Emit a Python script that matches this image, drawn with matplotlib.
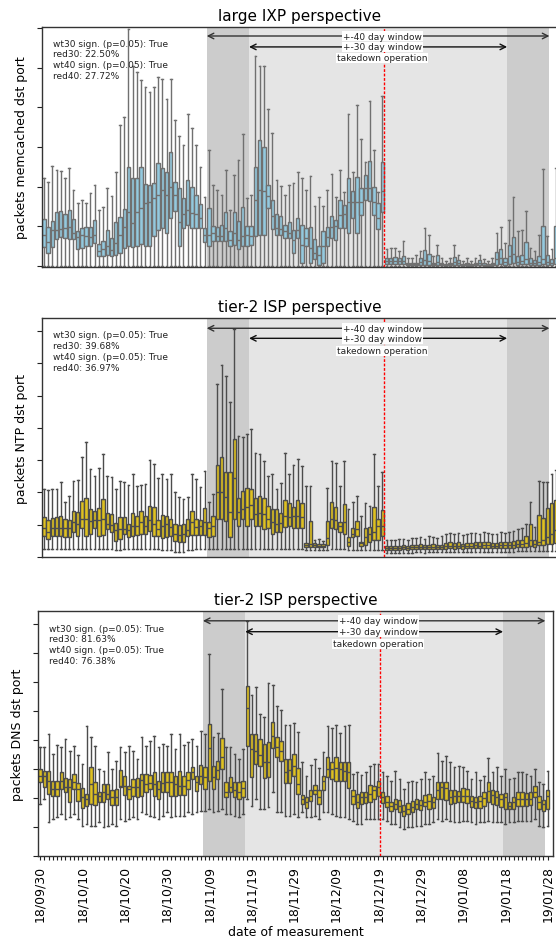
import matplotlib
matplotlib.use('Agg')
import matplotlib.pyplot as plt
from matplotlib.ticker import FixedLocator, NullFormatter

# ---------------- data (arbitrary packet units) ----------------
tick_labels = ['18/09/30', '18/10/10', '18/10/20', '18/10/30', '18/11/09', '18/11/19',
               '18/11/29', '18/12/09', '18/12/19', '18/12/29', '19/01/08', '19/01/18',
               '19/01/28']

# memcached (large IXP) -- lower whisker at zero
mem_q1 = [56,39,56,82,88,84,81,81,51,54, 59,59,69,29,29,34,29,34,39,54,
          59,57,59,67,59,59,89,109,114,99, 144,166,59,114,124,114,114,114,71,59,
          76,76,76,74,59,64,51,59,59,62, 89,92,94,175,110,94,92,84,84,39,
          84,9,59,9,20,4,9,59,84,79, 114,114,99,144,99,154,199,197,154,111,
          164, 5,5,5,5,5,2,2,2,4,4, 4,2,3,2,1,2,3,3,1,2,
          1,2,3,2,1,2,4,5,4,5, 10,4,5,6,4,3,4,6,4,3, 6]
mem_med = [92,72,109,109,111,114,116,99,87,92, 91,88,92,44,52,59,49,69,92,116,
           164,129,164,174,189,192,204,214,229,214, 237,214,134,156,169,159,156,144,94,94,
           99,89,89,114,77,99,79,91,92,90, 199,229,226,210,150,114,111,104,99,79,
           107,64,84,54,40,34,60,87,119,121, 154,156,194,194,194,194,236,236,194,144,
           225, 15,15,15,15,15,5,5,5,12,19, 15,5,12,5,3,5,12,8,3,5,
           3,5,10,4,3,5,20,25,12,30, 35,12,15,22,10,8,12,22,12,8,25]
mem_q3 = [141,119,136,164,167,156,168,142,104,114, 118,118,139,67,76,107,84,132,149,171,
          299,264,266,299,246,244,249,309,294,284, 344,254,234,204,259,239,214,186,114,176,
          122,116,124,162,104,164,136,177,121,121, 299,379,359,245,200,156,152,124,132,109,
          146,124,114,119,80,59,104,119,152,139, 199,184,264,226,269,234,274,317,237,189,
          314, 25,25,27,25,31,10,10,10,24,47, 36,10,32,10,6,10,26,19,6,10,
          6,10,19,8,6,10,41,52,24,62, 88,29,32,72,24,19,29,122,32,20,122]
mem_hi = [264,254,301,289,286,264,294,229,189,199, 191,219,244,169,179,234,211,284,424,449,
          714,604,584,559,539,524,539,569,564,504, 564,439,392,364,459,416,364,299,209,349,
          244,229,214,289,169,274,319,399,204,214, 634,604,604,474,400,259,241,214,244,249,
          284,264,229,272,180,209,181,229,276,209, 289,224,459,284,486,384,314,496,349,224,
          512, 50,55,55,45,74,25,25,34,44,114, 92,30,64,25,15,25,62,34,15,24,
          15,25,34,20,15,25,99,116,69,139, 209,104,109,167,54,44,94,292,89,50,294]
mem_lo = [0] * 122

# NTP (tier-2 ISP)
ntp_q1 = [64,54,62,62,62,59,59,74,64,86, 64,69,86,64,66,84,76,49,54,69,
          59,62,66,69,69,79,64,64,56,59, 62,49,44,46,64,66,66,66,66,59,
          64,114,114,109,59,114,94,114,92,114, 94,92,84,86,69,74,74,89,92,86,
          86,86,29,29,29,29,29,36,86,84, 76,69,34,59,62,34,36,46,52,52,
          62, 22,22,22,22,23,22,23,23,24,23, 24,24,23,24,25,26,25,26,25,26,
          26,27,26,28,27,26,26,28,27,28, 28,29,29,30,32,30,36,36,38,40,42]
ntp_med = [87,74,87,87,87,87,86,104,99,114, 114,109,111,111,114,99,96,81,84,84,
           82,94,92,106,92,112,99,84,92,99, 89,69,66,69,82,104,89,92,104,86,
           94,196,194,179,134,237,134,144,149,156, 129,131,129,114,104,99,101,124,119,122,
           122,119,36,39,36,34,34,57,114,112, 94,104,44,69,84,41,59,69,76,94,
           94, 28,28,28,28,29,28,29,30,30,29, 30,31,29,30,33,34,32,33,32,33,
           34,35,34,36,35,34,33,36,35,36, 37,38,38,42,50,40,44,50,60,70,80]
ntp_q3 = [119,112,116,119,122,114,111,139,136,168, 176,144,139,147,174,132,129,102,121,119,
          99,132,124,137,124,152,149,112,127,124, 114,99,96,99,114,139,114,111,146,104,
          122,277,299,254,254,354,176,199,207,204, 177,184,176,152,144,144,132,171,161,151,
          171,161,42,107,42,39,39,107,166,149, 104,159,59,86,109,46,86,89,149,114,
          141, 34,34,33,34,35,34,35,36,38,35, 37,38,36,37,42,44,42,44,40,42,
          43,44,44,46,45,42,42,46,44,46, 47,50,52,64,99,52,126,116,147,162,170]
ntp_hi = [204,201,204,204,224,164,184,229,232,299, 344,264,244,267,309,244,239,204,229,224,
          216,249,214,217,219,291,279,237,249,234, 249,194,179,174,179,249,234,209,259,164,
          189,519,576,542,464,684,364,359,369,384, 312,309,289,244,249,204,221,311,249,276,
          294,274,214,214,52,54,49,207,287,282, 214,289,144,164,184,124,162,154,309,214,
          256, 50,52,50,54,55,50,56,58,60,55, 62,60,58,62,70,72,68,72,66,70,
          72,72,70,74,72,68,70,74,72,76, 78,84,88,100,164,90,229,226,224,249,260]
ntp_lo = [24,24,24,24,24,24,24,24,24,24, 24,24,24,24,24,24,24,20,20,24,
          24,24,24,24,24,24,24,24,20,20, 20,14,14,14,20,20,24,24,24,24,
          24,24,24,24,24,24,24,24,24,24, 24,24,24,24,24,24,24,24,24,24,
          24,24,20,20,20,20,20,20,24,24, 24,24,20,20,20,20,20,20,20,20,
          20, 12,12,12,12,12,12,13,14,14,13, 14,14,14,14,15,15,15,15,15,15,
          15,16,15,16,16,15,15,16,16,16, 16,17,17,17,18,17,18,18,18,18,18]

# DNS (tier-2 ISP)
dns_q1 = [221,206,186,181,179,201,191,163,201,166, 143,151,156,153,163,161,171,153,153,206,
          183,171,181,176,181,191,201,181,171,191, 191,181,181,183,183,201,231,196,216,201,
          226,201,231,261,176,191,176,171,176,331, 236,276,271,233,236,323,296,286,219,219,
          241,186,156,143,166,186,156,199,236,231, 226,226,226,203,156,143,156,159,161,171,
          181, 159,146,136,141,133,119,126,131,141,139, 151,141,143,171,171,169,156,159,161,163,
          159,146,143,143,151,161,156,153,146,141, 141,141,151,151,149,153,176,141,136,141]
dns_med = [241,241,224,201,201,226,206,206,221,201, 176,171,216,186,181,191,186,176,176,211,
           211,201,206,206,229,216,219,216,201,219, 221,221,216,211,211,228,251,221,241,236,
           323,236,259,298,193,206,199,191,203,443, 321,316,303,281,281,361,326,316,253,259,
           271,216,171,161,181,199,176,226,261,261, 263,261,256,251,181,163,176,176,186,199,
           206, 176,163,151,156,151,136,141,146,156,153, 163,166,161,199,206,203,176,181,179,181,
           181,166,163,166,174,196,183,176,171,176, 151,161,171,171,171,171,191,161,156,181]
dns_q3 = [261,256,256,226,226,253,233,231,246,219, 203,186,266,223,191,216,216,199,201,259,
          241,211,231,233,246,246,243,251,226,251, 253,251,241,256,241,251,266,241,273,266,
          396,271,286,353,221,236,221,221,226,509, 366,366,351,336,341,403,356,344,291,291,
          306,263,183,176,198,214,199,241,296,283, 296,283,283,283,199,186,191,191,213,211,
          226, 191,181,163,171,169,153,159,166,171,169, 183,186,176,223,223,221,199,199,196,203,
          201,181,176,181,191,223,199,196,186,189, 163,176,191,191,189,191,209,179,169,199]
dns_hi = [326,326,366,306,334,326,351,316,331,303, 276,391,356,331,261,256,311,261,286,326,
          311,331,316,291,356,331,346,361,326,336, 331,366,321,366,333,341,351,331,376,366,
          605,356,369,501,326,326,306,291,321,706, 483,508,426,416,518,513,451,439,393,393,
          399,373,281,241,273,291,263,313,391,384, 393,369,389,394,246,251,243,253,271,276,
          276, 253,241,226,256,231,201,221,226,221,231, 251,231,241,308,286,301,283,266,269,266,
          256,231,251,229,241,293,253,266,241,261, 231,233,253,251,246,241,261,221,216,256]
dns_lo = [156,171,101,111,116,126,111,116,126,111, 91,96,91,91,101,86,91,96,91,111,
          106,111,116,111,131,126,121,116,111,121, 131,116,121,121,121,131,126,131,136,136,
          141,131,136,141,126,126,121,116,126,171, 151,171,141,141,146,191,131,131,121,121,
          126,116,131,116,116,121,111,131,131,126, 121,116,116,111,106,96,96,111,111,111,
          111, 111,106,96,96,86,81,86,86,91,91, 96,96,101,111,106,111,106,101,101,106,
          106,101,96,101,101,106,101,101,101,96, 101,101,106,106,106,106,111,91,86,91]

stats_texts = [
    "wt30 sign. (p=0.05): True\nred30: 22.50%\nwt40 sign. (p=0.05): True\nred40: 27.72%",
    "wt30 sign. (p=0.05): True\nred30: 39.68%\nwt40 sign. (p=0.05): True\nred40: 36.97%",
    "wt30 sign. (p=0.05): True\nred30: 81.63%\nwt40 sign. (p=0.05): True\nred40: 76.38%",
]
titles = ["large IXP perspective", "tier-2 ISP perspective", "tier-2 ISP perspective"]
ylabels = ["packets memcached dst port", "packets NTP dst port", "packets DNS dst port"]

takedown_idx = 80.5
win40 = (38.5, 119.5)
win30 = (48.5, 109.5)

# ---------------- figure ----------------
W, H = 556, 945
fig = plt.figure(figsize=(W / 100, H / 100), dpi=100)


def px_axes(left, top, right, bottom):
    return fig.add_axes([left / W, 1 - bottom / H, (right - left) / W, (bottom - top) / H])


panels = [
    dict(box=(41.7, 28, 557.9, 268), xlim=(-0.5, 121.5), ylim=(-3, 720), step=119.4,
         q1=mem_q1, med=mem_med, q3=mem_q3, hi=mem_hi, lo=mem_lo,
         face='#93c9de', edge='#707070', arr=(0.9625, 0.917, 0.871), txt_y=0.952, txt_x=0.021),
    dict(box=(41.7, 319, 557.9, 558), xlim=(-0.5, 121.5), ylim=(0, 717), step=96.9,
         q1=ntp_q1, med=ntp_med, q3=ntp_q3, hi=ntp_hi, lo=ntp_lo,
         face='#dfc120', edge='#4c4c4c', arr=(0.957, 0.915, 0.862), txt_y=0.948, txt_x=0.021),
    dict(box=(38, 612, 553, 857), xlim=(-0.5, 121.3), ylim=(0, 735), step=87.0,
         q1=dns_q1, med=dns_med, q3=dns_q3, hi=dns_hi, lo=dns_lo,
         face='#dfc120', edge='#4c4c4c', arr=(0.960, 0.9155, 0.866), txt_y=0.948, txt_x=0.022),
]

for i, p in enumerate(panels):
    ax = px_axes(*p['box'])
    n = len(p['med'])
    stats = [dict(med=p['med'][k], q1=p['q1'][k], q3=p['q3'][k],
                  whislo=p['lo'][k], whishi=p['hi'][k], fliers=[]) for k in range(n)]
    lw = 1.0
    ax.bxp(stats, positions=list(range(n)), widths=0.8, patch_artist=True,
           showfliers=False, manage_ticks=False,
           boxprops=dict(facecolor=p['face'], edgecolor=p['edge'], linewidth=lw),
           whiskerprops=dict(color=p['edge'], linewidth=lw),
           capprops=dict(color=p['edge'], linewidth=lw),
           medianprops=dict(color=p['edge'], linewidth=lw))
    ax.axvspan(win40[0], win30[0], color='#cccccc', zorder=0, lw=0)
    ax.axvspan(win30[0], win30[1], color='#e5e5e5', zorder=0, lw=0)
    ax.axvspan(win30[1], win40[1], color='#cccccc', zorder=0, lw=0)
    ax.axvline(takedown_idx, color='red', linestyle=(0, (2, 1.2)), linewidth=1.0, zorder=5)

    ax.set_xlim(*p['xlim'])
    ax.set_ylim(*p['ylim'])
    yt = [p['step'] * j for j in range(0, 10) if p['step'] * j <= p['ylim'][1]]
    ax.yaxis.set_major_locator(FixedLocator(yt))
    ax.yaxis.set_major_formatter(NullFormatter())
    ax.tick_params(axis='y', direction='out', length=3.5, width=0.8, color='#222222')

    a40, a30, atk = p['arr']
    ax.annotate('', xy=(win40[1], a40), xytext=(win40[0], a40),
                xycoords=('data', 'axes fraction'), textcoords=('data', 'axes fraction'),
                arrowprops=dict(arrowstyle='<->', color='#333333', lw=1.0,
                                shrinkA=0, shrinkB=0), zorder=6)
    ax.annotate('', xy=(win30[1], a30), xytext=(win30[0], a30),
                xycoords=('data', 'axes fraction'), textcoords=('data', 'axes fraction'),
                arrowprops=dict(arrowstyle='<->', color='#111111', lw=1.0,
                                shrinkA=0, shrinkB=0), zorder=6)
    bb = dict(facecolor='white', edgecolor='none', pad=0.6)
    for txt, yy in (("+-40 day window", a40), ("+-30 day window", a30), ("takedown operation", atk)):
        ax.text(80, yy, txt, transform=ax.get_xaxis_transform(), ha='center', va='center',
                fontsize=6.5, color='#222222', bbox=bb, zorder=7)

    ax.text(p['txt_x'], p['txt_y'], stats_texts[i], transform=ax.transAxes, ha='left',
            va='top', fontsize=6.5, linespacing=1.25, color='#222222', zorder=7)
    ax.set_title(titles[i], fontsize=11, pad=5)
    ax.set_ylabel(ylabels[i], fontsize=9, labelpad=3)

    for sp in ax.spines.values():
        sp.set_linewidth(1.0)
        sp.set_color('#333333')

    if i < 2:
        ax.set_xticks([])
    else:
        ax.set_xticks(list(range(0, 121, 10)))
        ax.set_xticklabels(tick_labels, rotation=90, fontsize=9)
        ax.xaxis.set_minor_locator(FixedLocator(list(range(0, 121))))
        ax.tick_params(axis='x', which='both', direction='out', length=3, width=0.8,
                       color='#222222')
        ax.set_xlabel('date of measurement', fontsize=9, labelpad=3)

fig.savefig('out.png', dpi=100)
